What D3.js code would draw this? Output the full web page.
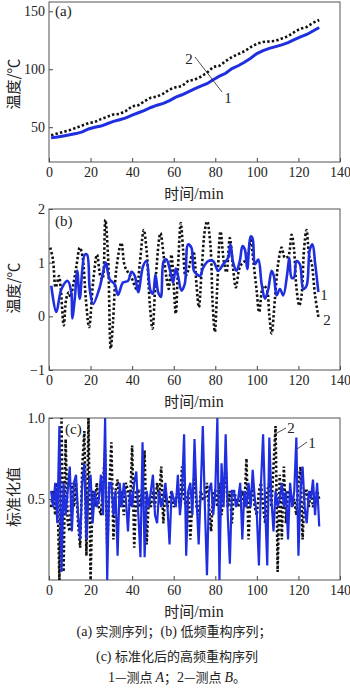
<!DOCTYPE html>
<html><head><meta charset="utf-8">
<script src="https://cdn.jsdelivr.net/npm/d3@7"></script>
<style>
body{margin:0;background:#fff;}
svg{display:block;}
text{fill:#222;}
</style></head>
<body>
<svg id="c" width="350" height="689"></svg>
<script>
// ---------- DATA ----------
const xTicks = [0,20,40,60,80,100,120,140];

// (a) measured series
const aTime = [1,4,7,10,13,16,19,22,25,28,31,34,37,40,43,46,49,52,55,58,61,64,67,70,73,76,79,82,85,88,91,94,97,100,103,106,109,112,115,118,121,124,127,130];
const aSeries1 = [40.8,41.5,42.5,43.5,44.5,46,48.5,50,51,53,55,56.5,58,60.5,62.5,64.5,67,69,70.5,73,76,78,80.5,83,85.5,87.5,91,94,96.5,100.5,103,106,109.5,113.5,116,118,119.5,121,123,125.5,128,130,133,136];
const aSeries2 = [43,44.5,46,47.5,49.5,51.5,53.5,54.5,57,59,61,61.5,64,68,69,72.5,75.5,76.5,79,82.5,84.5,85.5,90,91,93.5,97,102,103,107,110.5,113,115.5,119,122,123.5,124,124.5,126.5,128.5,132,135,136.5,140,142.5];
const aYTicks = [50,100,150];

// (b) low-frequency reconstruction
const bTime1 = [1.1,3.5,6,9,10.7,11.2,12.4,13.6,14.8,17.2,18.3,19.6,21.2,24.4,26,27.3,29.2,31.6,33.2,35.6,38,39.7,41.3,42.9,45.3,46.9,48.8,50,51.2,52.5,53.8,55.2,56.5,58.1,59.7,61,62.1,63.7,65.3,66.9,68.5,69.7,71,72.6,74.2,76.6,79,81.4,83.8,86.2,87.3,88.6,90.2,91.8,93.1,94.2,95.4,97,97.9,99.1,100.7,102.3,103.9,105.5,107.1,108.2,109.5,111.1,112.7,114.6,115.6,116.7,117.8,119.1,120.7,122.3,123.9,125.5,126.8,128,129.6];
const bSeries1 = [0.57,0.08,0.51,0.66,0.45,-0.04,0.33,0.85,0.33,1.15,1.15,0.51,0.23,0.54,0.82,1.0,0.69,0.6,0.4,0.63,0.66,0.83,0.75,0.45,0.94,1.03,0.48,0.42,0.78,0.45,0.36,1.03,1.06,0.88,0.63,0.89,0.75,0.48,0.6,1.34,1.28,0.85,0.79,0.75,0.91,1.03,1.03,0.85,0.97,1.09,1.34,1.0,0.85,1.03,1.31,1.25,0.88,1.49,1.46,0.97,1.06,0.6,0.33,0.51,0.85,0.75,0.39,0.51,0.39,0.79,1.09,0.72,0.72,1.03,0.97,0.51,0.57,1.25,1.34,1.0,0.45];
const bTime2 = [0.6,1.9,3.2,4.8,5.6,7.1,8.3,9.5,10.3,11.6,13.2,14.8,16.1,17.7,19.3,21.2,23.1,24.7,25.7,27.1,28.4,29.7,30.8,32.4,34.8,36.4,38,39.7,42.1,43.7,45.6,46.9,48.5,49.8,51.4,53.6,55.2,56.5,57.6,58.9,60,61,62.1,63.4,64.5,65.7,66.9,69.4,71,72.1,73.4,75,76.1,77.7,78.7,79.8,80.9,82.5,84.1,85.4,87,88.6,89.9,91.5,92.6,94.2,95.8,97,98.3,99.9,101.1,103.1,104.7,106,107.1,108.7,110.3,111.9,113.5,115.1,116.7,117.8,119.1,120.4,121.5,122.7,123.9,125.2,126.3,128,129.6];
const bSeries2 = [1.28,1.06,0.54,0.75,0.54,-0.17,0.33,0.45,0.36,0.57,0.94,1.28,1.12,0.33,-0.2,0.63,1.15,0.75,0.69,1.8,1.12,-0.6,-0.1,0.88,1.37,0.94,0.82,0.72,0.51,1.0,1.61,1.25,0.23,-0.23,0.75,1.55,1.12,0.72,0.51,1.15,0.57,0.05,0.94,1.74,1.25,0.75,0.85,1.21,0.57,0.17,0.82,1.61,1.77,1.31,0.26,-0.29,0.51,1.58,1.03,0.82,1.46,0.88,0.54,0.88,0.97,1.03,1.15,1.46,1.03,0.48,0.08,0.57,0.51,0.02,-0.32,0.33,1.0,1.28,1.09,1.12,1.52,1.28,0.51,0.2,0.39,1.25,1.61,1.12,1.0,0.39,-0.01];
const bYTicks = [-1,0,1,2];

// (c) normalised high-frequency reconstruction (1-min samples, t = 1..130)
const cSeries1 = [0.55,0.45,0.6,0.35,0.95,0.05,0.6,0.4,0.55,0.7,0.3,0.6,0.65,0.4,0.25,0.6,0.72,0.25,0.55,0.65,0.35,0.55,0.45,0.5,0.65,0.4,1.0,0.0,0.6,0.6,0.4,0.55,0.15,0.6,0.45,0.6,0.5,0.3,0.55,0.45,0.6,0.67,0.4,0.14,0.85,0.14,0.55,0.45,0.55,0.65,0.4,0.35,0.55,0.45,0.5,0.6,0.45,0.22,0.55,0.5,0.45,0.65,0.4,0.55,0.9,0.15,0.55,0.6,0.4,0.87,0.5,0.22,0.55,0.95,0.45,0.03,0.55,0.6,0.4,0.55,1.0,0.0,0.72,0.45,0.9,0.4,0.1,0.55,0.55,0.45,0.5,0.6,0.25,0.55,0.45,0.6,0.45,0.68,0.5,0.4,0.09,0.6,0.9,0.45,0.09,0.88,0.5,0.3,0.55,0.45,0.5,0.6,0.45,0.55,0.25,0.6,0.45,0.55,0.88,0.15,0.55,0.7,0.45,0.35,0.55,0.5,0.62,0.4,0.6,0.33];
const cSeries2 = [0.45,0.55,0.4,0.6,0.0,1.0,0.05,0.87,0.35,0.3,0.6,0.45,0.6,0.35,0.2,0.7,0.92,0.15,1.0,0.0,0.55,0.45,0.6,0.45,0.4,0.6,0.8,0.2,0.55,0.85,0.25,0.55,0.62,0.45,0.55,0.4,0.6,0.55,0.45,0.83,0.2,0.55,0.55,0.45,0.6,0.8,0.22,0.5,0.45,0.55,0.45,0.6,0.5,0.7,0.35,0.55,0.45,0.5,0.55,0.45,0.5,0.55,0.45,0.7,0.5,0.45,0.55,0.25,0.5,0.65,0.45,0.4,0.55,0.5,0.5,0.6,0.45,0.3,0.55,0.55,0.45,0.6,0.4,0.55,0.7,0.45,0.55,0.35,0.55,0.5,0.45,0.5,0.55,0.45,0.75,0.25,0.55,0.55,0.45,0.4,0.55,0.6,0.45,0.35,0.55,0.6,0.45,0.7,0.95,0.05,0.65,0.25,0.7,0.35,0.55,0.55,0.45,0.5,0.4,0.6,0.7,0.25,0.55,0.55,0.45,0.55,0.45,0.5,0.55,0.5];
const cYTicks = [0.5,1.0];

// ---------- DRAW ----------
const svg = d3.select("#c");
const BLUE = "#1f2fe0";
const SERIF = "'Liberation Serif','Times New Roman',serif";
const CJK = "'Noto Sans CJK SC',sans-serif";
const x = d3.scaleLinear().domain([0,140]).range([49,340]);

// mixed-script text helper: parts = [[text, isLatin, italic]]
function mixed(sel, parts, size){
  parts.forEach(([t,lat,it])=>{
    const ts = sel.append("tspan").text(t)
      .attr("font-family", lat?SERIF:CJK).attr("font-size", lat?size+1:size);
    if(it) ts.attr("font-style","italic");
  });
  return sel;
}

function panel(opts){
  const y = d3.scaleLinear().domain(opts.yDomain).range(opts.yRange);
  const g = svg.append("g");
  const [yb, yt] = opts.yRange;
  const xa = g.append("g").attr("transform",`translate(0,${yb})`)
    .call(d3.axisBottom(x).tickValues(xTicks).tickSizeInner(-4).tickSizeOuter(0).tickPadding(5));
  const ya = g.append("g").attr("transform",`translate(49,0)`)
    .call(d3.axisLeft(y).tickValues(opts.yTicks).tickFormat(opts.fmt||d3.format("d")).tickSizeInner(-4).tickSizeOuter(0).tickPadding(4));
  [xa,ya].forEach(a=>{
    a.selectAll("text").attr("font-family",SERIF).attr("font-size",14).attr("fill","#222");
    a.selectAll("line").attr("stroke","#444");
    a.select(".domain").remove();
  });
  xa.selectAll("text").attr("dy","0.72em");
  g.append("rect").attr("x",49).attr("y",yt).attr("width",291).attr("height",yb-yt)
    .attr("fill","none").attr("stroke","#555").attr("stroke-width",1);
  const clipId = "clip"+opts.id;
  svg.append("clipPath").attr("id",clipId).append("rect")
    .attr("x",49).attr("y",yt).attr("width",291).attr("height",yb-yt);
  const lg = g.append("g").attr("clip-path",`url(#${clipId})`);
  const line = (xs)=>d3.line().x((d,i)=>x(xs[i])).y(d=>y(d)).curve(opts.curve||d3.curveLinear);
  lg.append("path").datum(opts.s2).attr("d",line(opts.t2)).attr("fill","none")
    .attr("stroke","#111").attr("stroke-width",2.6).attr("stroke-dasharray","2.4,2.2");
  lg.append("path").datum(opts.s1).attr("d",line(opts.t1)).attr("fill","none")
    .attr("stroke",BLUE).attr("stroke-width",opts.bw||2.6);
  mixed(g.append("text").attr("x",194).attr("y",yb+37).attr("text-anchor","middle"),
    [["时间",false],["/min",true]],15);
  mixed(g.append("text").attr("transform",`translate(19,${opts.yTitleY}) rotate(-90)`).attr("text-anchor","middle"),
    opts.yTitle,15);
  g.append("text").attr("x",opts.tagX).attr("y",opts.tagY).attr("font-size",15)
    .attr("font-family",SERIF).text(opts.tag);
  return {g,y};
}
function label(g,t,xp,yp){
  g.append("text").attr("x",xp).attr("y",yp).attr("text-anchor","middle").attr("font-size",15).attr("font-family",SERIF).text(t);
}
function leader(g,x1,y1,x2,y2){
  g.append("line").attr("x1",x1).attr("y1",y1).attr("x2",x2).attr("y2",y2).attr("stroke","#222").attr("stroke-width",0.8);
}

const tC = d3.range(1,131);
const tempTitle = [["温度",false],["/℃",false]];

const pa = panel({id:"a",yDomain:[20,158],yRange:[162,2],yTicks:aYTicks,t1:aTime,s1:aSeries1,t2:aTime,s2:aSeries2,
  yTitle:tempTitle,yTitleY:84,tag:"(a)",tagX:55,tagY:16,bw:3});
leader(pa.g,195,57,222,92);
label(pa.g,"2",189,64); label(pa.g,"1",228,103);

const pb = panel({id:"b",yDomain:[-1,2],yRange:[370,209],yTicks:bYTicks,t1:bTime1,s1:bSeries1,t2:bTime2,s2:bSeries2,
  yTitle:tempTitle,yTitleY:288,tag:"(b)",tagX:55,tagY:226,curve:d3.curveCatmullRom.alpha(0.5),
  fmt:d=>d<0?"\u2212"+Math.abs(d):String(d)});
label(pb.g,"1",324,300); label(pb.g,"2",327,325);

const pc = panel({id:"c",yDomain:[0,1],yRange:[580,418],yTicks:cYTicks,t1:tC,s1:cSeries1,t2:tC,s2:cSeries2,
  yTitle:[["标准化值",false]],yTitleY:497,tag:"(c)",tagX:65,tagY:434,fmt:d3.format(".1f"),bw:2.2});
leader(pc.g,277,433,286,428); label(pc.g,"2",291,433);
leader(pc.g,297,449,307,442); label(pc.g,"1",312,448);

// caption
const cap = svg.append("g").attr("text-anchor","middle");
mixed(cap.append("text").attr("x",174).attr("y",636),
  [["(a) ",true],["实测序列；",false],["(b) ",true],["低频重构序列；",false]],13);
mixed(cap.append("text").attr("x",177).attr("y",661),
  [["(c) ",true],["标准化后的高频重构序列",false]],13);
mixed(cap.append("text").attr("x",177).attr("y",682),
  [["1",true],["—测点 ",false],["A",true,true],["；",false],["2",true],["—测点 ",false],["B",true,true],["。",false]],13);
</script>
</body></html>
